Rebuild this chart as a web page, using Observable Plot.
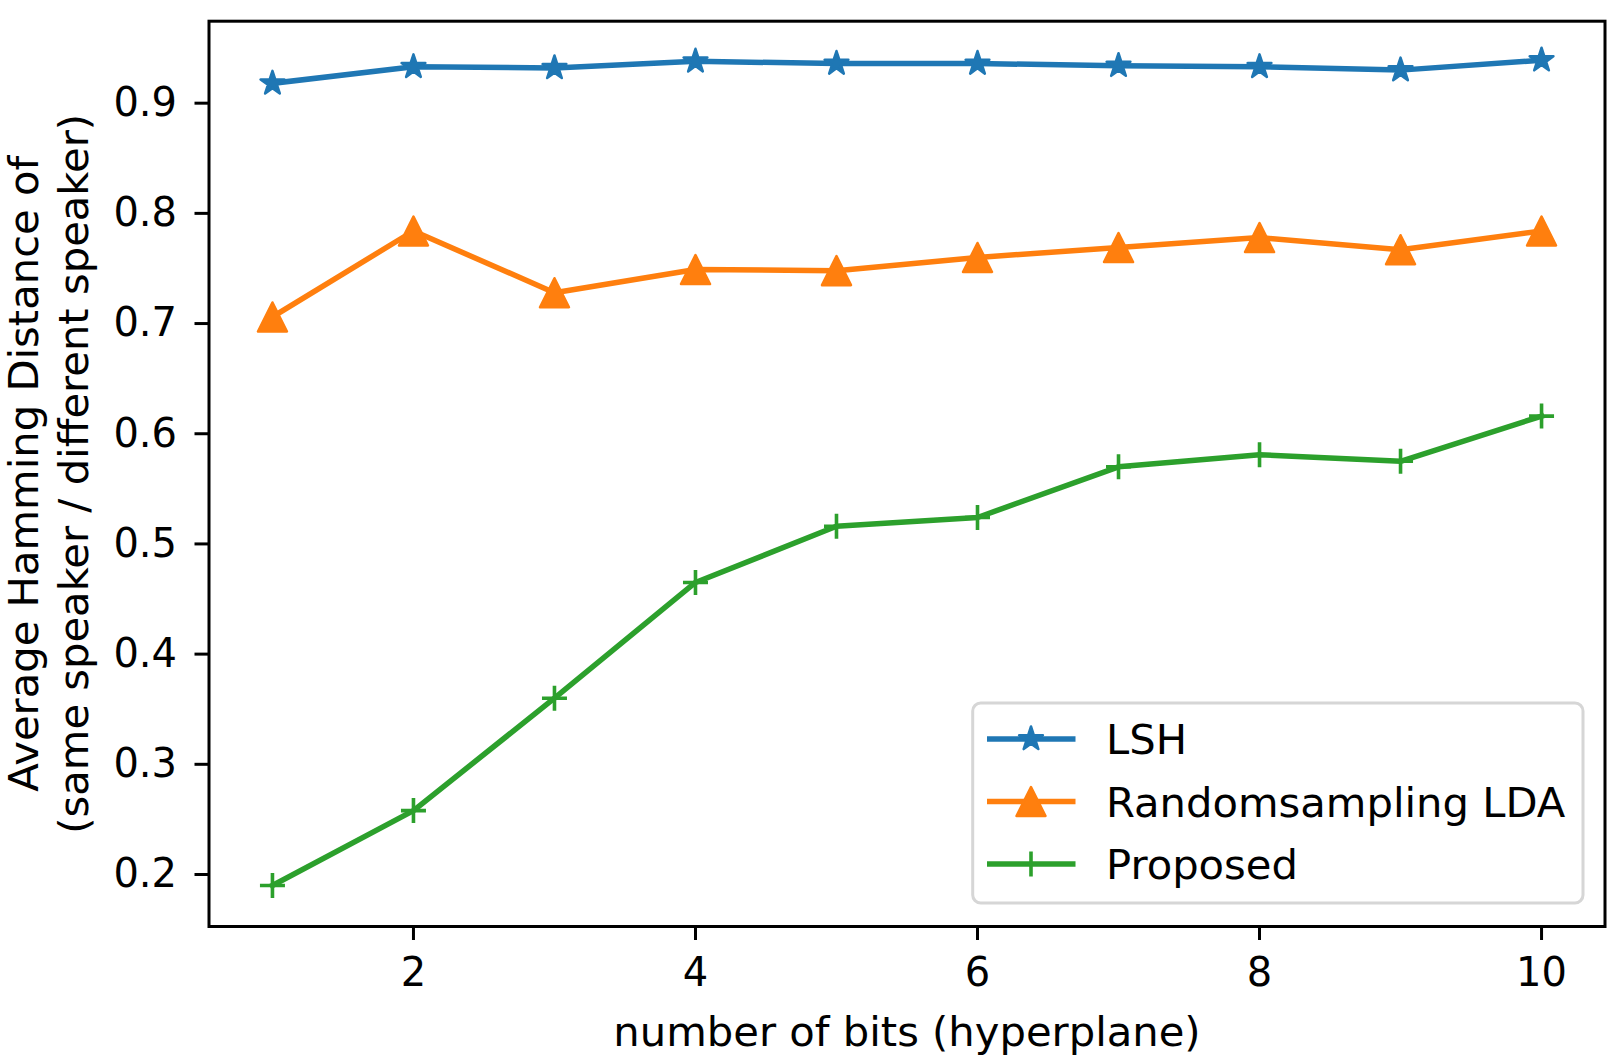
<!DOCTYPE html>
<html>
<head>
<meta charset="utf-8">
<script src="https://cdn.jsdelivr.net/npm/d3@7"></script>
<script src="https://cdn.jsdelivr.net/npm/@observablehq/plot@0.6"></script>
<style>
html, body { margin: 0; padding: 0; background: #fff; overflow: hidden; }
#wrap { position: relative; width: 1622px; height: 1059px; }
#legend { position: absolute; left: 0; top: 0; pointer-events: none; }
</style>
</head>
<body>
<div id="wrap"></div>
<script>
// ---- data ----
const bits = [1, 2, 3, 4, 5, 6, 7, 8, 9, 10];
const lsh = [0.918, 0.933, 0.932, 0.938, 0.936, 0.936, 0.934, 0.933, 0.930, 0.939];
const randomLda = [0.706, 0.784, 0.728, 0.749, 0.748, 0.760, 0.769, 0.778, 0.767, 0.784];
const proposed = [0.190, 0.258, 0.360, 0.465, 0.516, 0.524, 0.570, 0.581, 0.575, 0.616];
const seriesNames = ["LSH", "Randomsampling LDA", "Proposed"];
const seriesColors = ["#1f77b4", "#ff7f0e", "#2ca02c"];
const xTicks = [2, 4, 6, 8, 10];
const yTicks = [0.2, 0.3, 0.4, 0.5, 0.6, 0.7, 0.8, 0.9];
const xLabel = "number of bits (hyperplane)";
const yLabel1 = "Average Hamming Distance of";
const yLabel2 = "(same speaker / different speaker)";

// ---- matplotlib-like marker symbols ----
const starSym = {draw(ctx, size) {
  const R = Math.sqrt(size / Math.PI);
  for (let k = 0; k < 10; k++) {
    const a = -Math.PI / 2 + k * Math.PI / 5;
    const rr = k % 2 ? R * 0.381966 : R;
    const x = rr * Math.cos(a), y = rr * Math.sin(a);
    if (k) ctx.lineTo(x, y); else ctx.moveTo(x, y);
  }
  ctx.closePath();
}};
const triSym = {draw(ctx, size) {
  const s = Math.sqrt(size / Math.PI);
  ctx.moveTo(0, -s); ctx.lineTo(s, s); ctx.lineTo(-s, s); ctx.closePath();
}};
const plusSym = {draw(ctx, size) {
  const s = Math.sqrt(size / Math.PI);
  ctx.moveTo(-s, 0); ctx.lineTo(s, 0); ctx.moveTo(0, -s); ctx.lineTo(0, s);
}};
const symbols = [starSym, triSym, plusSym];
const radii = [12.5, 14.5, 12.5];
const filled = [true, true, false];

const series = [lsh, randomLda, proposed];
const rowsOf = vals => bits.map((b, i) => ({bits: b, value: vals[i]}));

const W = 1622, H = 1059;
const mL = 208.5, mR = 17.5, mT = 20.7, mB = 133;
const FS = 41.7;

const marks = [];
series.forEach((vals, i) => {
  const data = rowsOf(vals);
  marks.push(Plot.line(data, {x: "bits", y: "value", stroke: seriesColors[i], strokeWidth: 5.5, strokeLinejoin: "round", strokeLinecap: "square"}));
  marks.push(Plot.dot(data, {
    x: "bits", y: "value", symbol: symbols[i], r: radii[i],
    fill: seriesColors[i],
    stroke: seriesColors[i],
    strokeWidth: filled[i] ? 2.5 : 3.6,
    strokeLinejoin: "round",
    fillOpacity: filled[i] ? 1 : 0
  }));
});

const chart = Plot.plot({
  width: W, height: H,
  marginLeft: mL, marginRight: mR, marginTop: mT, marginBottom: mB,
  style: {fontFamily: "DejaVu Sans", fontSize: "40px", color: "black", background: "white", overflow: "visible"},
  x: {domain: [0.55, 10.45]},
  y: {domain: [0.1528, 0.9744]},
  marks: [
    ...marks,
    Plot.frame({stroke: "black", strokeWidth: 3}),
    Plot.axisX({ticks: xTicks, tickSize: 14, tickPadding: 17, strokeWidth: 3, fontSize: 40, label: null}),
    Plot.axisY({ticks: yTicks, tickSize: 14, tickPadding: 18, strokeWidth: 3, fontSize: 40, tickFormat: d3.format(".1f"), label: null}),
    Plot.text([xLabel], {text: d => d, frameAnchor: "bottom", textAnchor: "middle", lineAnchor: "middle", dy: 105.7, fontSize: FS, fill: "black"}),
    Plot.text([yLabel1], {text: d => d, frameAnchor: "left", textAnchor: "middle", lineAnchor: "middle", rotate: -90, dx: 24.2 - mL, fontSize: FS, fill: "black"}),
    Plot.text([yLabel2], {text: d => d, frameAnchor: "left", textAnchor: "middle", lineAnchor: "middle", rotate: -90, dx: 74 - mL, fontSize: FS, fill: "black"})
  ]
});
const wrap = document.getElementById("wrap");
wrap.appendChild(chart);

// ---- legend (overlay, lower right inside axes) ----
const lg = d3.select(wrap).append("svg").attr("id", "legend").attr("width", W).attr("height", H);
const box = {x: 972.7, y: 703, w: 1583 - 972.7, h: 903 - 703};
lg.append("rect").attr("x", box.x).attr("y", box.y).attr("width", box.w).attr("height", box.h)
  .attr("rx", 8).attr("fill", "white").attr("fill-opacity", 0.8)
  .attr("stroke", "#d6d6d6").attr("stroke-width", 3);
const rowY = [739, 801.5, 864];
seriesNames.forEach((name, i) => {
  const y = rowY[i];
  lg.append("line").attr("x1", 987).attr("x2", 1075.5).attr("y1", y).attr("y2", y)
    .attr("stroke", seriesColors[i]).attr("stroke-width", 5.5);
  lg.append("path").attr("transform", `translate(1031,${y})`)
    .attr("d", d3.symbol(symbols[i], Math.PI * radii[i] * radii[i])())
    .attr("fill", filled[i] ? seriesColors[i] : "none")
    .attr("stroke", seriesColors[i])
    .attr("stroke-linejoin", "round")
    .attr("stroke-width", filled[i] ? 2.5 : 3.6);
  lg.append("text").attr("x", 1106).attr("y", y + 15)
    .attr("font-family", "DejaVu Sans").attr("font-size", FS).attr("fill", "black")
    .text(name);
});
</script>
</body>
</html>
